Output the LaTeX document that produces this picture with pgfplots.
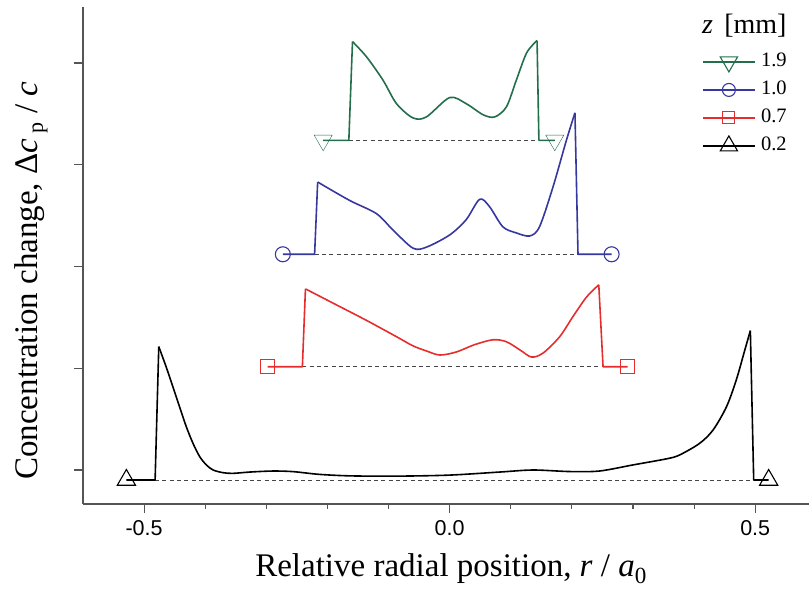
\documentclass[border=0pt]{standalone}
\usepackage{pgfplots}
\pgfplotsset{compat=1.18}
\usepackage{fontspec}
\setmainfont{Liberation Serif}
\newfontfamily\arial{Liberation Sans}

\definecolor{cgreen}{RGB}{35,110,75}
\definecolor{cblue}{RGB}{55,55,160}
\definecolor{cred}{RGB}{230,45,45}
\definecolor{axgray}{RGB}{85,85,85}
\definecolor{basegray}{RGB}{70,70,70}

\pgfplotsset{
  base/.style={forget plot, basegray, line width=0.9pt, dash pattern=on 4pt off 3.3pt},
  edge/.style={forget plot, line width=1.6pt, line join=round},
  prof/.style={forget plot, line width=1.6pt, smooth, tension=0.5, line join=round},
  ends/.style={forget plot, only marks, mark options={fill=white, line width=1.1pt}},
}

\begin{document}
\begin{tikzpicture}
\begin{axis}[
  scale only axis, width=726pt, height=497pt,
  xmin=-0.6, xmax=0.588, ymin=-0.334, ymax=4.55,
  axis lines*=left,
  axis line style={axgray, line width=1.2pt},
  every tick/.style={axgray, line width=1.2pt},
  tick align=outside,
  major tick length=9pt, minor tick length=5pt,
  xtick={-0.5,0,0.5}, xticklabels={-0.5,0.0,0.5},
  minor xtick={-0.4,-0.3,-0.2,-0.1,0.1,0.2,0.3,0.4},
  ytick={0,1,2,3,4}, yticklabels={},
  /pgf/number format/assume math mode=true,
  xticklabel style={font=\arial\fontsize{21.5}{24}\selectfont, yshift=-4pt},
  label style={font=\fontsize{33}{38}\selectfont},
  xlabel={Relative radial position, \textit{r} / \textit{a}\textsubscript{0}},
  xlabel style={at={(axis description cs:0.507,-0.146)}, anchor=base},
  ylabel={Concentration change, Δ\textit{c}\,\raisebox{-0.35ex}{\fontsize{22}{24}\selectfont p} / \textit{c}},
  ylabel style={at={(axis description cs:-0.0627,0.449)}, anchor=base},
  legend style={at={(axis description cs:0.8526,0.912)}, anchor=north west,
    draw=none, fill=none, font=\fontsize{20.5}{24}\selectfont,
    row sep=6pt, inner sep=0pt,
    nodes={inner sep=2pt, text height=14pt, text depth=4pt}},
  legend cell align=left,
  legend image code/.code={\draw[mark repeat=2,mark phase=2]
    plot coordinates {(0pt,0pt)(26pt,0pt)(52pt,0pt)};},
]
% legend keys
\addlegendimage{cgreen, line width=1.4pt, mark=triangle, mark size=10pt,
  mark options={rotate=180, fill=white, line width=1.1pt}}
\addlegendentry{\,1.9}
\addlegendimage{cblue, line width=1.4pt, mark=o, mark size=6.5pt,
  mark options={fill=white, line width=1.1pt}}
\addlegendentry{\,1.0}
\addlegendimage{cred, line width=1.4pt, mark=square, mark size=6pt,
  mark options={fill=white, line width=1.1pt}}
\addlegendentry{\,0.7}
\addlegendimage{black, line width=1.4pt, mark=triangle, mark size=10pt,
  mark options={fill=white, line width=1.1pt}}
\addlegendentry{\,0.2}

% dashed baselines
\addplot[base] coordinates {(-0.482,-0.098) (0.4975,-0.098)};
\addplot[base] coordinates {(-0.241,1.015) (0.251,1.015)};
\addplot[base] coordinates {(-0.221,2.12) (0.21,2.12)};
\addplot[base] coordinates {(-0.165,3.24) (0.146,3.24)};

% z = 0.2 mm
\addplot[edge, black] coordinates {(-0.529,-0.098) (-0.482,-0.098) (-0.476,1.212)};
\addplot[prof, black] coordinates {
  (-0.476,1.212) (-0.464,1.015) (-0.453,0.819) (-0.442,0.622) (-0.431,0.426)
  (-0.420,0.262) (-0.409,0.131) (-0.398,0.049) (-0.387,0.0) (-0.371,-0.026)
  (-0.355,-0.033) (-0.327,-0.02) (-0.289,-0.01) (-0.256,-0.016) (-0.213,-0.043)
  (-0.16,-0.058) (-0.082,-0.06) (0,-0.05) (0.082,-0.02) (0.136,0.0)
  (0.196,-0.015) (0.245,-0.01) (0.30,0.05) (0.355,0.11) (0.376,0.147)
  (0.409,0.262) (0.431,0.393) (0.453,0.622) (0.469,0.885) (0.483,1.18)
  (0.492,1.369)};
\addplot[edge, black] coordinates {(0.492,1.369) (0.4975,-0.098) (0.522,-0.098)};
\addplot[ends, black, mark=triangle, mark size=10.5pt]
  coordinates {(-0.529,-0.098) (0.522,-0.098)};

% z = 0.7 mm
\addplot[edge, cred] coordinates {(-0.298,1.015) (-0.241,1.015) (-0.236,1.78)};
\addplot[prof, cred] coordinates {
  (-0.236,1.78) (-0.186,1.625) (-0.136,1.47) (-0.087,1.31) (-0.06,1.22)
  (-0.038,1.17) (-0.016,1.13) (0.011,1.16) (0.04,1.23) (0.071,1.28)
  (0.093,1.26) (0.115,1.18) (0.134,1.11) (0.153,1.15) (0.18,1.31)
  (0.202,1.51) (0.224,1.70) (0.244,1.82)};
\addplot[edge, cred] coordinates {(0.244,1.82) (0.251,1.015) (0.291,1.015)};
\addplot[ends, cred, mark=square, mark size=7pt]
  coordinates {(-0.298,1.015) (0.291,1.015)};

% z = 1.0 mm
\addplot[edge, cblue] coordinates {(-0.273,2.12) (-0.221,2.12) (-0.216,2.83)};
\addplot[prof, cblue] coordinates {
  (-0.216,2.83) (-0.164,2.65) (-0.12,2.52) (-0.093,2.36) (-0.06,2.18)
  (-0.038,2.19) (0,2.31) (0.027,2.46) (0.049,2.66) (0.065,2.59)
  (0.087,2.39) (0.109,2.33) (0.131,2.30) (0.147,2.39) (0.169,2.78)
  (0.191,3.24) (0.205,3.51)};
\addplot[edge, cblue] coordinates {(0.205,3.51) (0.21,2.12) (0.265,2.12)};
\addplot[ends, cblue, mark=o, mark size=7.5pt]
  coordinates {(-0.273,2.12) (0.265,2.12)};

% z = 1.9 mm
\addplot[edge, cgreen] coordinates {(-0.207,3.24) (-0.165,3.24) (-0.159,4.21)};
\addplot[prof, cgreen] coordinates {
  (-0.159,4.21) (-0.136,4.06) (-0.109,3.83) (-0.087,3.60) (-0.06,3.46)
  (-0.038,3.47) (0,3.66) (0.027,3.60) (0.055,3.49) (0.074,3.47)
  (0.093,3.57) (0.109,3.83) (0.126,4.10) (0.143,4.22)};
\addplot[edge, cgreen] coordinates {(0.143,4.22) (0.146,3.24) (0.172,3.24)};
\addplot[ends, cgreen, mark=triangle, mark size=10.5pt,
  mark options={rotate=180}]
  coordinates {(-0.207,3.24) (0.172,3.24)};

\node[anchor=base west, font=\fontsize{28}{32}\selectfont, inner sep=0pt]
  at (axis description cs:0.8526,0.947) {\textit{z}\hspace{0.4em}[mm]};
\end{axis}
\pgfresetboundingbox
\path (current axis.south west) ++(-83pt,-90pt) rectangle ([yshift=7pt]current axis.north east);
\end{tikzpicture}
\end{document}
